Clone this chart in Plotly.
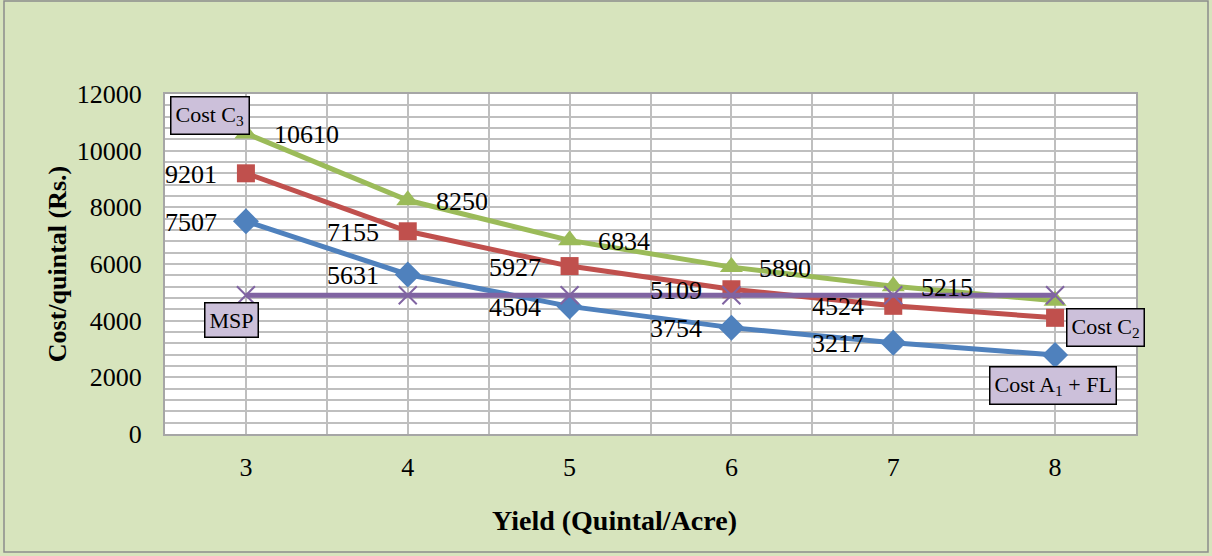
import plotly.graph_objects as go

# Yield levels (quintal per acre)
yields = [3, 4, 5, 6, 7, 8]

# Cost per quintal (Rs.) at each yield level
cost_a1_fl = [7507, 5631, 4504, 3754, 3217, 2790]
cost_c2 = [9201, 7155, 5927, 5109, 4524, 4100]
cost_c3 = [10610, 8250, 6834, 5890, 5215, 4700]
msp = [4900, 4900, 4900, 4900, 4900, 4900]

y_ticks = [0, 2000, 4000, 6000, 8000, 10000, 12000]

BLUE = "#4F81BD"
RED = "#C0504D"
GREEN = "#9BBB59"
PURPLE = "#8064A2"
BG = "#D7E4BD"
FONT = "Liberation Serif"

fig = go.Figure()

series = [
    ("Cost A1 + FL", cost_a1_fl, BLUE, "diamond", 20),
    ("Cost C2", cost_c2, RED, "square", 18),
    ("Cost C3", cost_c3, GREEN, "triangle-up", 20),
]
for name, vals, col, sym, size in series:
    fig.add_trace(go.Scatter(
        x=yields, y=vals, mode="lines+markers", name=name,
        line=dict(color=col, width=5),
        marker=dict(symbol=sym, size=size, color=col),
        showlegend=False,
    ))

fig.add_trace(go.Scatter(
    x=yields, y=msp, mode="lines+markers", name="MSP",
    line=dict(color=PURPLE, width=5),
    marker=dict(symbol="x-thin", size=18, line=dict(color=PURPLE, width=2)),
    showlegend=False,
))

# value labels for every point but the last, placed beside the markers
label_specs = [
    (cost_a1_fl, "right", -27),
    (cost_c2, "right", -27),
    (cost_c3, "left", 26),
]
for vals, anchor, shift in label_specs:
    for xv, yv in zip(yields[:-1], vals[:-1]):
        fig.add_annotation(
            x=xv, y=yv, text=str(yv), showarrow=False,
            xanchor=anchor, yanchor="middle", xshift=shift, yshift=-1,
            font=dict(family=FONT, size=26, color="black"),
        )

box = dict(bgcolor="#CCC0DA", bordercolor="black", borderwidth=1.5, borderpad=4,
           font=dict(family=FONT, size=22, color="black"), showarrow=False)
fig.add_annotation(x=yields[0], y=cost_c3[0], text="Cost C<sub>3</sub>",
                   xanchor="right", yanchor="bottom", xshift=4, yshift=-2, **box)
fig.add_annotation(x=yields[0], y=msp[0], text="MSP",
                   xanchor="right", yanchor="top", xshift=13, yshift=-7, **box)
fig.add_annotation(x=yields[-1], y=cost_c2[-1], text="Cost C<sub>2</sub>",
                   xanchor="left", yanchor="middle", xshift=11, yshift=-10, **box)
fig.add_annotation(x=yields[-1], y=cost_a1_fl[-1], text="Cost A<sub>1</sub> + FL",
                   xanchor="center", yanchor="top", xshift=-2, yshift=-11, **box)

# x-axis title, positioned in paper fractions of the 971x340 plot area
fig.add_annotation(x=(614 - 165) / 971, y=-(520 - 434) / 340, xref="paper", yref="paper",
                   text="<b>Yield (Quintal/Acre)</b>", showarrow=False,
                   xanchor="center", yanchor="middle",
                   font=dict(family=FONT, size=28, color="black"))

grid = "#BFBFBF"
fig.update_xaxes(
    range=[2.5, 8.5], tickvals=yields, ticktext=[str(v) for v in yields],
    showgrid=True, gridcolor=grid, gridwidth=1.5,
    minor=dict(dtick=0.5, tick0=2.5, showgrid=True, gridcolor=grid, gridwidth=1.5),
    showline=True, linecolor="#A6A6A6", linewidth=2, mirror=True,
    ticks="", ticklabelstandoff=9, zeroline=False,
    tickfont=dict(family=FONT, size=26, color="black"),
)
fig.update_yaxes(
    range=[0, 12000], tickvals=y_ticks, ticktext=[str(v) for v in y_ticks],
    showgrid=True, gridcolor=grid, gridwidth=1.5,
    minor=dict(dtick=400, tick0=0, showgrid=True, gridcolor=grid, gridwidth=1.5),
    showline=True, linecolor="#A6A6A6", linewidth=2, mirror=True,
    ticks="", ticklabelstandoff=16, zeroline=False,
    tickfont=dict(family=FONT, size=26, color="black"),
    title=dict(text="<b>Cost/quintal (Rs.)</b>", standoff=3,
               font=dict(family=FONT, size=26, color="black")),
)

fig.update_layout(
    width=1212, height=556,
    margin=dict(l=165, r=76, t=94, b=122),
    paper_bgcolor=BG, plot_bgcolor="white",
    shapes=[dict(type="rect", xref="paper", yref="paper",
                 x0=-161 / 971, x1=1 + 72 / 971, y0=-118 / 340, y1=1 + 93 / 340,
                 line=dict(color="#8C8C8C", width=1.5), layer="below")],
)

fig.write_html("out.html")
